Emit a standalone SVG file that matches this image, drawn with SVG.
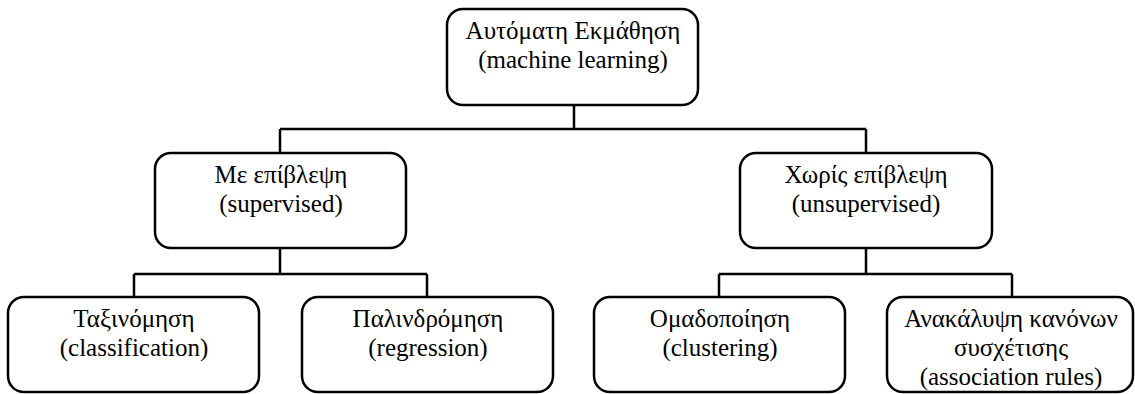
<svg xmlns="http://www.w3.org/2000/svg" width="1135" height="394" viewBox="0 0 1135 394">
<style>
.box{fill:#fff;stroke:#000;stroke-width:2.5}
.t{font-family:"Liberation Serif","DejaVu Serif",serif;font-size:25px;fill:#000;text-anchor:middle}
.c{fill:none;stroke:#000;stroke-width:2.5}
</style>
<rect width="1135" height="394" fill="#fff"/>
<g id="connectors">
<path class="c" d="M574 105V129M280 129H866M280 129V153M866 129V153"/>
<path class="c" d="M280 248V274M134 274H427M134 274V297M427 274V297"/>
<path class="c" d="M866 248V274M719 274H1012M719 274V297M1012 274V297"/>
</g>
<g id="n-ml">
<rect class="box" x="447" y="9" width="251" height="96" rx="16"/>
<text class="t" x="573" y="39">Αυτόματη Εκμάθηση</text>
<text class="t" x="573" y="68">(machine learning)</text>
</g>
<g id="n-sup">
<rect class="box" x="155" y="153" width="251" height="95" rx="16"/>
<text class="t" x="281" y="183">Με επίβλεψη</text>
<text class="t" x="281" y="212">(supervised)</text>
</g>
<g id="n-unsup">
<rect class="box" x="740" y="153" width="252" height="95" rx="16"/>
<text class="t" x="866" y="183">Χωρίς επίβλεψη</text>
<text class="t" x="866" y="212">(unsupervised)</text>
</g>
<g id="n-class">
<rect class="box" x="8" y="297" width="251" height="95" rx="16"/>
<text class="t" x="134" y="327">Ταξινόμηση</text>
<text class="t" x="134" y="356">(classification)</text>
</g>
<g id="n-reg">
<rect class="box" x="302" y="297" width="251" height="95" rx="16"/>
<text class="t" x="428" y="327">Παλινδρόμηση</text>
<text class="t" x="428" y="356">(regression)</text>
</g>
<g id="n-clust">
<rect class="box" x="594" y="297" width="251" height="95" rx="16"/>
<text class="t" x="720" y="327">Ομαδοποίηση</text>
<text class="t" x="720" y="356">(clustering)</text>
</g>
<g id="n-assoc">
<rect class="box" x="887" y="297" width="246" height="95" rx="16"/>
<text class="t" x="1011" y="327">Ανακάλυψη κανόνων</text>
<text class="t" x="1011" y="356">συσχέτισης</text>
<text class="t" x="1011" y="385">(association rules)</text>
</g>
</svg>
